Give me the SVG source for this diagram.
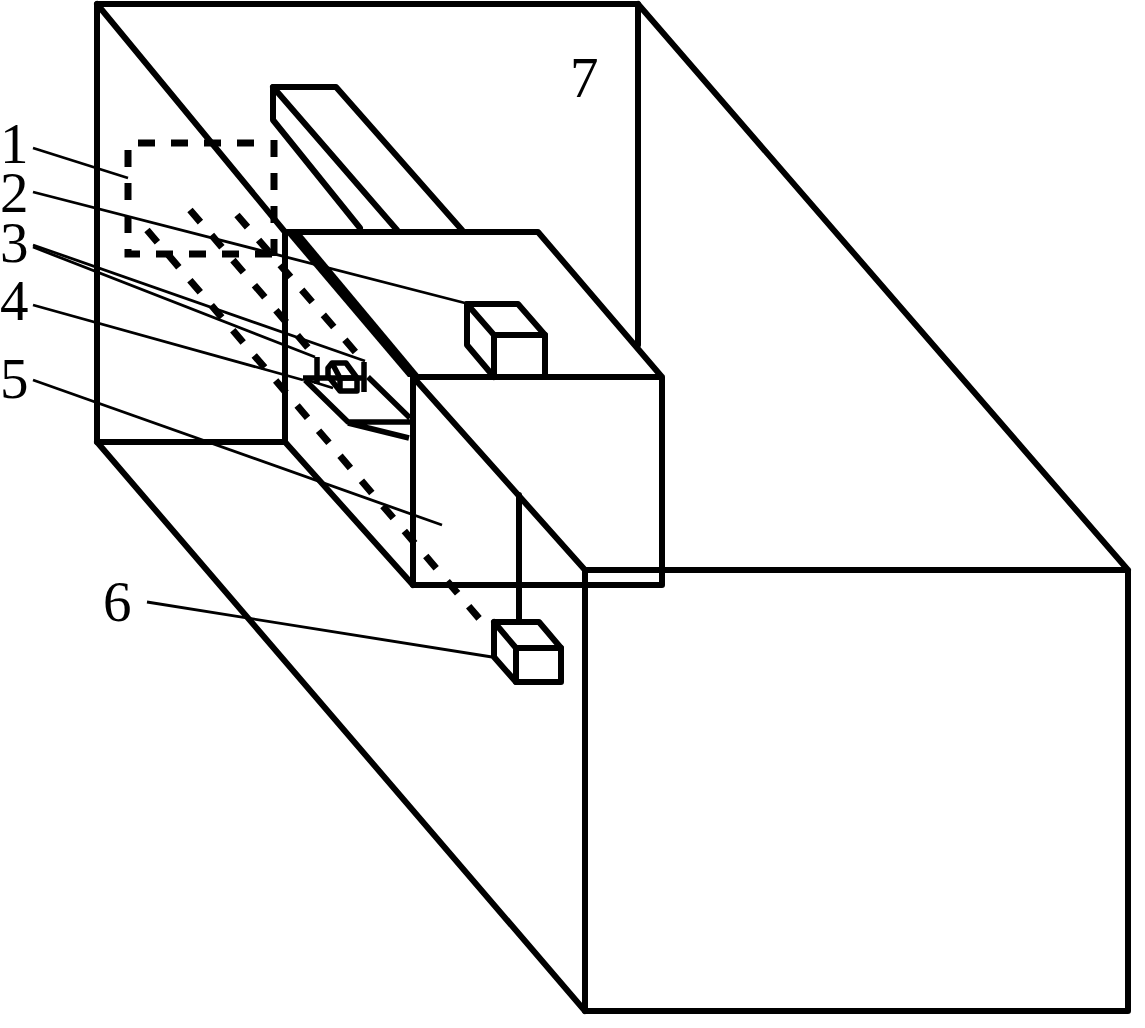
<svg xmlns="http://www.w3.org/2000/svg" width="1145" height="1028" viewBox="0 0 1145 1028">
<style>
.s{fill:none;stroke:#000;stroke-width:6;stroke-linejoin:round;stroke-linecap:round}
.t{fill:none;stroke:#000;stroke-width:2.8}
.d{fill:none;stroke:#000;stroke-width:7;stroke-dasharray:16 17}
.r{fill:none;stroke:#000;stroke-width:7;stroke-dasharray:17 16}
.m{fill:none;stroke:#000;stroke-width:5.5;stroke-linejoin:round}
text{font-family:"Liberation Serif","Times New Roman",serif;font-size:57px;fill:#000}
</style>
<rect width="1145" height="1028" fill="#fff"/>
<g id="shell" class="s">
<path d="M285,442H97V4H638V345"/>
<path d="M97,4L285,232"/>
<path d="M638,4L1128,570H585V1011H1128V570"/>
<path d="M97,442L585,1011"/>
</g>
<g id="bar" class="s">
<path d="M397,230L273,87H336L462,230"/>
<path d="M273,87V120L360,228"/>
</g>
<g id="housing" class="s">
<path d="M285,232H538L662,377V585H413V377H662"/>
<path d="M285,232V442L413,585"/>
<path d="M413,377L585,570V582"/>
</g>
<polygon id="housing-edge" points="285,232 300,232 421,377 408,377" fill="#000"/>
<g id="dashed">
<path class="r" d="M128,150V254H275"/>
<path class="r" d="M138,143H255"/>
<path class="r" d="M274,140V258"/>
<path class="d" d="M190,210L310,350"/>
<path class="d" d="M237,215L358,355"/>
<path class="d" d="M147,230L483,623"/>
</g>
<g id="part-2" class="s">
<path d="M467,304H518L545,335V375"/>
<path d="M494,377L467,345V304L494,335H545"/>
<path d="M494,335V375"/>
</g>
<g id="part-4" class="m">
<path d="M303,378H365"/>
<path d="M317,357V384M364,362V392"/>
<path d="M332,363H346L357,378V391H340L328,376V368Z"/>
<path d="M332,363L340,378H357M340,378V391"/>
<path d="M305,380L348,422H410M368,377L410,418M348,423L409,438"/>
<path d="M307,380L333,388" stroke-width="2.5"/>
</g>
<g id="part-6" class="s">
<path d="M519,495V620"/>
<path d="M494,622H539L561,648V682H516L494,657Z"/>
<path d="M494,622L516,648H561M516,648V682"/>
</g>
<g id="leaders" class="t">
<path d="M33,148L128,178"/>
<path d="M33,192L465,303"/>
<path d="M33,245L365,361"/>
<path d="M33,247L315,357"/>
<path d="M33,305L303,380"/>
<path d="M33,380L442,525"/>
<path d="M147,602L492,657"/>
</g>
<g id="labels">
<text x="0" y="163">1</text>
<text x="0" y="212">2</text>
<text x="0" y="262">3</text>
<text x="0" y="320">4</text>
<text x="0" y="398">5</text>
<text x="103" y="621">6</text>
<text x="570" y="97">7</text>
</g>
</svg>
